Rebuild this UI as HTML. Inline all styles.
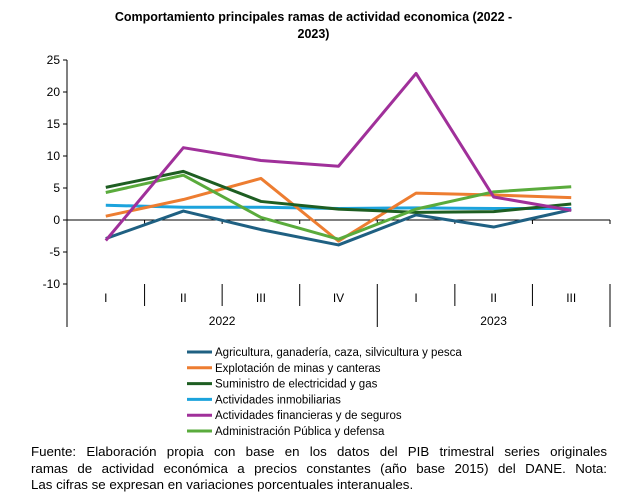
<!DOCTYPE html>
<html><head><meta charset="utf-8"><style>
body{margin:0;width:627px;height:500px;background:#fff;font-family:"Liberation Sans",sans-serif;position:relative;overflow:hidden}
.title{position:absolute;left:0;width:627px;top:9px;text-align:center;font-weight:bold;font-size:12.5px;line-height:17px;color:#000}
.foot{position:absolute;left:31px;width:576px;top:444px;font-size:13.3px;line-height:16.5px;color:#000}
.foot div{text-align:justify;text-align-last:justify;white-space:nowrap}
.foot div.last{text-align-last:left}
</style></head><body>
<div class="title">Comportamiento principales ramas de actividad economica (2022 -<br>2023)</div>
<svg id="chart" width="627" height="440" style="position:absolute;left:0;top:0"></svg>
<div class="foot"><div>Fuente: Elaboración propia con base en los datos del PIB trimestral series originales</div><div>ramas de actividad económica a precios constantes (año base 2015) del DANE. Nota:</div><div class="last">Las cifras se expresan en variaciones porcentuales interanuales.</div></div>
<script>
const categories=["I","II","III","IV","I","II","III"];
const years=["2022","2023"];
const yTicks=[25,20,15,10,5,0,-5,-10];
const seriesNames=["Agricultura, ganadería, caza, silvicultura y pesca","Explotación de minas y canteras","Suministro de electricidad y gas","Actividades inmobiliarias","Actividades financieras y de seguros","Administración Pública y defensa"];
const seriesColors=["#1f6082","#ed7d31","#1e5e22","#1ca3dc","#a0309a","#5aab3c"];
const agri=[-2.9,1.4,-1.5,-3.9,0.8,-1.1,1.6];
const minas=[0.6,3.2,6.5,-3.3,4.2,3.9,3.5];
const elec=[5.1,7.6,2.9,1.7,1.2,1.3,2.5];
const inmob=[2.3,2.0,2.0,1.8,1.9,1.8,1.8];
const fin=[-3.2,11.3,9.3,8.4,22.9,3.6,1.5];
const admin=[4.3,7.0,0.4,-3.0,1.7,4.4,5.2];
const allSeries=[agri,minas,elec,inmob,fin,admin];
const svg=document.getElementById('chart');const NS="http://www.w3.org/2000/svg";
const X0=67,X1=610,Y25=60,YM10=284;
const step=(X1-X0)/categories.length;
const xs=i=>X0+step*(i+0.5);
const ys=v=>Y25+(25-v)*(YM10-Y25)/35;
function mk(t,a){const e=document.createElementNS(NS,t);for(const k in a)e.setAttribute(k,a[k]);svg.appendChild(e);return e;}
let e=mk('line',{x1:X0,y1:Y25,x2:X0,y2:327,stroke:'#000','stroke-width':1});

yTicks.forEach(v=>{mk('line',{x1:X0-4,x2:X0,y1:ys(v),y2:ys(v),stroke:'#000'});
 const t=mk('text',{x:X0-7,y:ys(v)+4,'text-anchor':'end','font-size':12,fill:'#000'});t.textContent=v;
 });
e=mk('line',{x1:X0,y1:ys(0),x2:X1,y2:ys(0),stroke:'#000'});

for(let i=1;i<=categories.length;i++){const x=X0+step*i;mk('line',{x1:x,x2:x,y1:ys(0),y2:ys(0)+4,stroke:'#000'});
 const long=(i===4||i===categories.length);mk('line',{x1:x,x2:x,y1:YM10,y2:long?327:306,stroke:'#000'});}
categories.forEach((c,i)=>{const t=mk('text',{x:xs(i),y:302,'text-anchor':'middle','font-size':12});t.textContent=c;
 });
years.forEach((y,j)=>{const a=j===0?X0:X0+step*4,b=j===0?X0+step*4:X1;const t=mk('text',{x:(a+b)/2,y:325,'text-anchor':'middle','font-size':12});t.textContent=y;
 });
const order=[3,0,1,2,5,4];
order.forEach(k=>{const p=mk('polyline',{points:allSeries[k].map((v,i)=>xs(i)+','+ys(v)).join(' '),fill:'none',stroke:seriesColors[k],'stroke-width':3,'stroke-linejoin':'round'});
 });
seriesNames.forEach((n,k)=>{const y=352+k*15.8;
 const l=mk('line',{x1:187,x2:212,y1:y,y2:y,stroke:seriesColors[k],'stroke-width':3});
 
 const t=mk('text',{x:215,y:y+4,'font-size':11.5});t.textContent=n;
 });
</script>
</body></html>
